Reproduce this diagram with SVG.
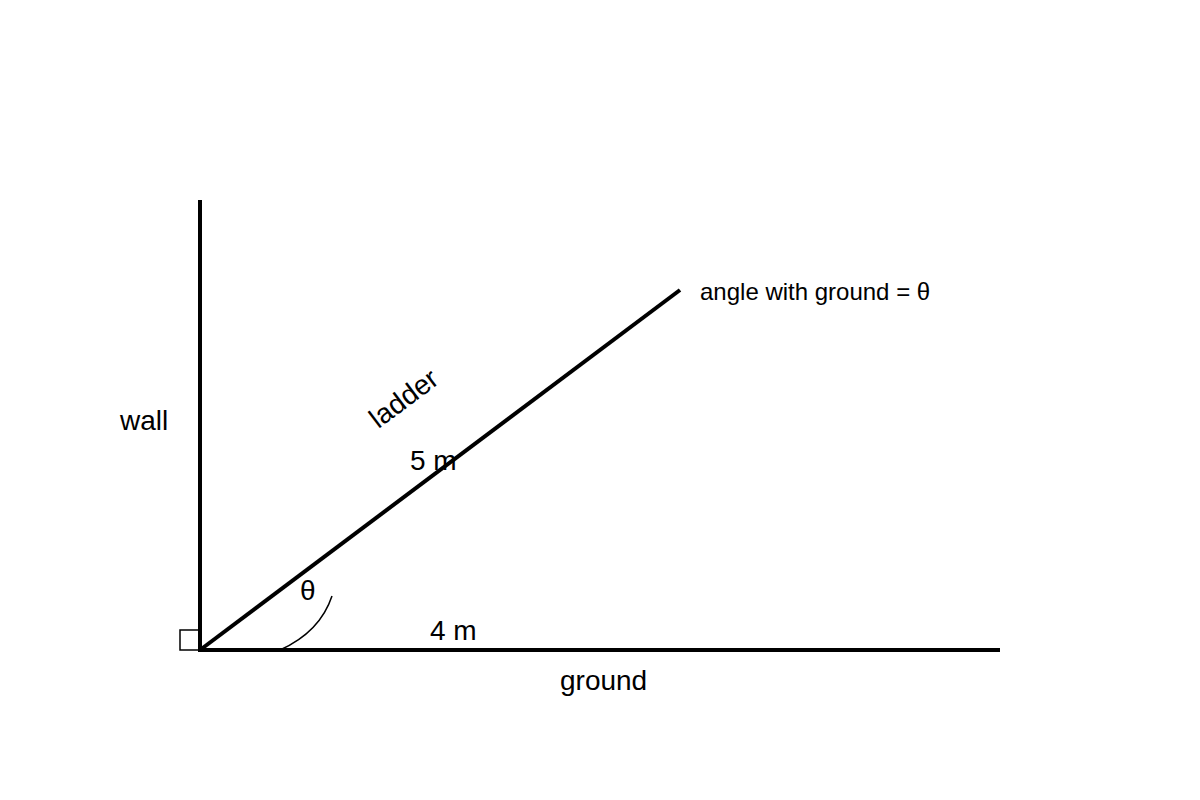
<svg xmlns="http://www.w3.org/2000/svg" width="1200" height="800" viewBox="0 0 1200 800">
<style>
.t{font-family:"Liberation Sans",Arial,sans-serif;fill:#000}
.l{font-size:28px}
.s{font-size:24px}
.line{stroke:#000;stroke-width:4;fill:none}
</style>
<rect width="1200" height="800" fill="#fff"/>
<g id="connectors">
<line class="line" x1="200" y1="200" x2="200" y2="652"/>
<line class="line" x1="198" y1="650" x2="1000" y2="650"/>
<line class="line" x1="200" y1="650" x2="680" y2="290"/>
</g>
<g id="right-angle"><rect x="180" y="630" width="20" height="20" fill="none" stroke="#000" stroke-width="1.5"/></g>
<g id="angle-arc"><path d="M280,650 Q320,632 332,596" fill="none" stroke="#000" stroke-width="1.5"/></g>
<g id="wall-label"><text class="t l" x="120" y="430">wall</text></g>
<g id="ground-label"><text class="t l" x="560" y="690">ground</text></g>
<g id="ladder-label"><text class="t l" x="405" y="400" text-anchor="middle" dominant-baseline="middle" transform="rotate(-36.87 405 400)">ladder</text></g>
<g id="len5"><text class="t l" x="410" y="470">5 m</text></g>
<g id="len4"><text class="t l" x="430" y="640">4 m</text></g>
<g id="theta"><text class="t l" x="300" y="600">θ</text></g>
<g id="angle-note"><text class="t s" x="700" y="300">angle with ground = θ</text></g>
</svg>
